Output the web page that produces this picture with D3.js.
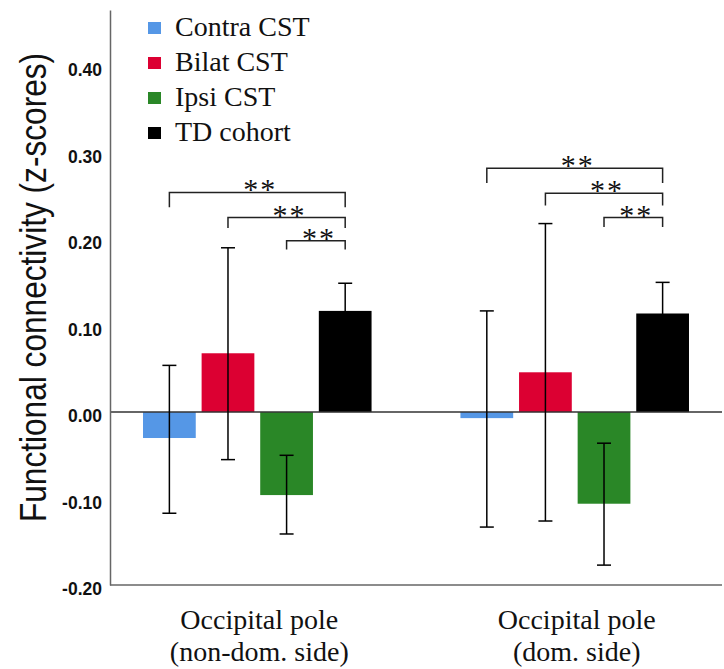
<!DOCTYPE html>
<html>
<head>
<meta charset="utf-8">
<script src="https://cdn.jsdelivr.net/npm/d3@7"></script>
<style>
    body { margin: 0; background: #ffffff; }
</style>
</head>
<body>
<div id="chart"></div>
<script>
// ===== Chart data =====
const regions = ["Occipital pole (non-dom. side)", "Occipital pole (dom. side)"];
const regionLines = [["Occipital pole", "(non-dom. side)"], ["Occipital pole", "(dom. side)"]];
const cohorts = ["Contra CST", "Bilat CST", "Ipsi CST", "TD cohort"];
const cohortColors = ["#5597e6", "#dc0032", "#2a8727", "#000000"];

// mean z-score per region, one value for each cohort
const meansNonDom = [-0.030, 0.068, -0.096, 0.117];
const meansDom = [-0.007, 0.046, -0.106, 0.114];

// error bar limits (lower, upper)
const lowerNonDom = [-0.117, -0.055, -0.141, 0.085];
const upperNonDom = [0.054, 0.190, -0.050, 0.149];
const lowerDom = [-0.133, -0.126, -0.177, 0.078];
const upperDom = [0.117, 0.218, -0.036, 0.150];

// significance brackets: region, from cohort, to cohort, bar level, leg end
const bracketRegion = [0, 0, 0, 1, 1, 1];
const bracketFrom = [0, 1, 2, 0, 1, 2];
const bracketTo = [3, 3, 3, 3, 3, 3];
const bracketLevel = [0.254, 0.225, 0.198, 0.282, 0.253, 0.225];
const bracketLeg = [0.237, 0.213, 0.188, 0.265, 0.239, 0.214];
const bracketLabel = "**";

const yTicks = [-0.20, -0.10, 0.00, 0.10, 0.20, 0.30, 0.40];

// ===== Setup =====
const width = 724;
const height = 669;
const margin = { top: 10, right: 2, bottom: 84, left: 110 };

const svg = d3.select("#chart")
    .append("svg")
    .attr("width", width)
    .attr("height", height);

// build one record per bar so the marks come from the arrays above
const meanRows = [meansNonDom, meansDom];
const lowRows = [lowerNonDom, lowerDom];
const highRows = [upperNonDom, upperDom];
const bars = [];
regions.forEach((r, gi) => {
    cohorts.forEach((c, ci) => {
        bars.push({ region: r, cohort: c, mean: meanRows[gi][ci], low: lowRows[gi][ci], high: highRows[gi][ci] });
    });
});

// scales
const y = d3.scaleLinear()
    .domain([-0.2, 0.465])
    .range([height - margin.bottom, margin.top]);

const x0 = d3.scaleBand()
    .domain(regions)
    .range([margin.left, width - margin.right])
    .paddingInner(0.28)
    .paddingOuter(0.104);

const x1 = d3.scaleBand()
    .domain(cohorts)
    .range([0, x0.bandwidth()])
    .paddingInner(0.1);

const color = d3.scaleOrdinal()
    .domain(cohorts)
    .range(cohortColors);

const barCenter = (region, cohort) => x0(region) + x1(cohort) + x1.bandwidth() / 2;

// ===== Bars =====
svg.append("g")
    .selectAll("rect")
    .data(bars)
    .join("rect")
    .attr("x", d => x0(d.region) + x1(d.cohort))
    .attr("y", d => y(Math.max(0, d.mean)))
    .attr("width", x1.bandwidth())
    .attr("height", d => Math.abs(y(d.mean) - y(0)))
    .attr("fill", d => color(d.cohort));

// zero reference line
svg.append("line")
    .attr("x1", margin.left)
    .attr("x2", width - margin.right)
    .attr("y1", y(0))
    .attr("y2", y(0))
    .attr("stroke", "#333")
    .attr("stroke-width", 1.5);

// ===== Error bars =====
const capHalf = 7;
const errG = svg.append("g")
    .attr("stroke", "#000")
    .attr("stroke-width", 1.5);

errG.selectAll(".err-stem")
    .data(bars)
    .join("line")
    .attr("class", "err-stem")
    .attr("x1", d => barCenter(d.region, d.cohort))
    .attr("x2", d => barCenter(d.region, d.cohort))
    .attr("y1", d => y(d.low))
    .attr("y2", d => y(d.high));

["low", "high"].forEach(key => {
    errG.selectAll(".err-cap-" + key)
        .data(bars)
        .join("line")
        .attr("class", "err-cap-" + key)
        .attr("x1", d => barCenter(d.region, d.cohort) - capHalf)
        .attr("x2", d => barCenter(d.region, d.cohort) + capHalf)
        .attr("y1", d => y(d[key]))
        .attr("y2", d => y(d[key]));
});

// ===== Axes =====
// plain hyphen for negatives, like the original
const tickFmt = d => d3.format(".2f")(d).replace("\u2212", "-");

const axisLeft = svg.append("g")
    .attr("transform", `translate(${margin.left}, 0)`)
    .call(d3.axisLeft(y).tickValues(yTicks).tickSize(0).tickPadding(8).tickFormat(tickFmt));

axisLeft.select(".domain").attr("stroke", "#666").attr("stroke-width", 1.5);
axisLeft.selectAll("text")
    .attr("dy", "0.55em")
    .style("font-family", "'Liberation Sans', Arial, sans-serif")
    .style("font-size", "17.5px")
    .style("font-weight", "bold")
    .attr("fill", "#111");

// bottom axis line only, category names are drawn as two lines below
svg.append("line")
    .attr("x1", margin.left)
    .attr("x2", width - margin.right)
    .attr("y1", y(-0.2))
    .attr("y2", y(-0.2))
    .attr("stroke", "#666")
    .attr("stroke-width", 1.5);

const xLabels = svg.append("g")
    .selectAll("text")
    .data(regions)
    .join("text")
    .attr("x", d => x0(d) + x0.bandwidth() / 2 + 2)
    .attr("y", 629)
    .attr("text-anchor", "middle")
    .style("font-family", "'Liberation Serif', 'Times New Roman', serif")
    .style("font-size", "28px")
    .attr("fill", "#111");

xLabels.selectAll("tspan")
    .data((d, i) => regionLines[i])
    .join("tspan")
    .attr("x", function () { return d3.select(this.parentNode).attr("x"); })
    .attr("dy", (d, i) => i === 0 ? 0 : 32)
    .text(d => d);

// y-axis title, squeezed sideways as in the original
svg.append("text")
    .attr("transform", `translate(46, ${(53 + 522) / 2}) rotate(-90) scale(0.855, 1)`)
    .attr("text-anchor", "middle")
    .style("font-family", "'Liberation Sans', Arial, sans-serif")
    .style("font-size", "37px")
    .attr("fill", "#111")
    .text("Functional connectivity (z-scores)");

// ===== Significance brackets =====
const brG = svg.append("g");
bracketRegion.forEach((ri, i) => {
    const xa = barCenter(regions[ri], cohorts[bracketFrom[i]]);
    const xb = barCenter(regions[ri], cohorts[bracketTo[i]]);
    const yTop = y(bracketLevel[i]);
    const yLeg = y(bracketLeg[i]);

    brG.append("path")
        .attr("d", `M${xa},${yLeg}V${yTop}H${xb}V${yLeg}`)
        .attr("fill", "none")
        .attr("stroke", "#222")
        .attr("stroke-width", 1.5);

    brG.append("text")
        .attr("x", (xa + xb) / 2 + 3)
        .attr("y", yTop + 7)
        .attr("text-anchor", "middle")
        .style("font-family", "'Liberation Serif', 'Times New Roman', serif")
        .style("font-size", "30px")
        .style("letter-spacing", "2px")
        .attr("fill", "#111")
        .text(bracketLabel);
});

// ===== Legend =====
const legend = svg.append("g")
    .selectAll("g")
    .data(cohorts)
    .join("g")
    .attr("transform", (d, i) => `translate(148, ${28 + i * 35})`);

legend.append("rect")
    .attr("x", 0)
    .attr("y", -6)
    .attr("width", 13)
    .attr("height", 12)
    .attr("fill", d => color(d));

legend.append("text")
    .attr("x", 27)
    .attr("y", 8)
    .style("font-family", "'Liberation Serif', 'Times New Roman', serif")
    .style("font-size", "28px")
    .attr("fill", "#111")
    .text(d => d);
</script>
</body>
</html>
